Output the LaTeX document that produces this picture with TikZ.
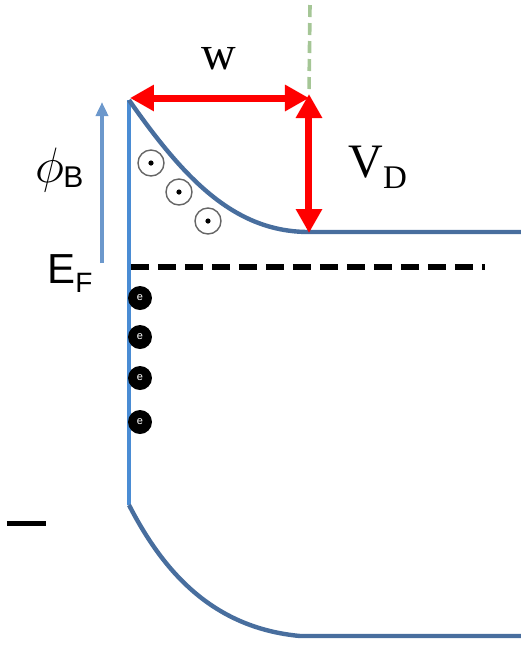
\documentclass[tikz,border=0pt]{standalone}
\usepackage{fontspec}
\setmainfont{Liberation Serif}
\setsansfont{Liberation Sans}
\usepackage{amsmath}
\usetikzlibrary{arrows.meta,positioning,calc}
\definecolor{bandBlue}{RGB}{72,110,158}
\definecolor{wallBlue}{RGB}{74,140,212}
\definecolor{phiBlue}{RGB}{108,152,204}
\definecolor{edgeGreen}{RGB}{165,198,150}

\begin{document}
\begin{tikzpicture}[
  x=0.5pt, y=-0.5pt,
  band/.style={line width=2.2pt, bandBlue},
  dim/.style={{Triangle[length=12pt,width=12.5pt]}-{Triangle[length=12pt,width=12.5pt]},
              line width=3.5pt, red},
  hole/.style={circle, draw=black!60, line width=0.7pt, minimum size=13pt, inner sep=0pt,
               path picture={\fill[black] (path picture bounding box.center) circle (1.3pt);}},
  elec/.style={circle, fill=black, minimum size=12pt, inner sep=0pt, text=white,
               font=\sffamily\fontsize{5.5}{5.5}\selectfont},
  lbl/.style={inner sep=0pt, anchor=base west}
]
  \useasboundingbox (0,0) rectangle (521,645);

  % band edges and interface
  \coordinate (top)  at (130,98);
  \coordinate (edge) at (309,98);
  \coordinate (knee) at (309,94);
  \coordinate (flat) at (309,233);
  \draw[wallBlue, line width=2.2pt] (129,100) -- (129,505);
  \draw[band] (129,100) .. controls (185,180) and (235,232) .. (309,232) -- (521,232);
  \draw[band] (129,505) .. controls (165,575) and (215,628) .. (300,636) -- (521,636);

  % Fermi level and depletion edge
  \draw[black, line width=2.6pt, dash pattern=on 9pt off 4.5pt] (131,267) -- (485,267);
  \draw[edgeGreen, line width=1.8pt, dash pattern=on 6pt off 3pt] (310,5) -- (knee);
  \draw[black, line width=2.5pt] (7,523) -- (46,523);

  % barrier height arrow
  \coordinate (phibot) at (102,263);
  \coordinate (phitop) at (102,102);
  \draw[-{Triangle[length=7pt,width=6pt]}, phiBlue, line width=2pt] (phibot) -- (phitop);

  % W and V_D
  \draw[dim] (top) -- (edge);
  \draw[dim] (knee) -- (flat);
  \node[font=\fontsize{24}{24}\selectfont] (w) at (219,59) {w};
  \node[lbl, font=\fontsize{24}{24}\selectfont] (vd) at (348,177)
       {V\raisebox{-5.5pt}{\fontsize{16.5}{16.5}\selectfont D}};

  % labels on the left
  \node[font=\fontsize{28}{28}\selectfont] (phi) at (50,170) {$\phi$};
  \node[lbl, font=\sffamily\fontsize{15}{15}\selectfont] (phib) at (63,187) {B};
  \node[lbl, font=\sffamily\fontsize{21}{21}\selectfont] (ef) at (47,283)
       {E\raisebox{-4.5pt}{\fontsize{14}{14}\selectfont F}};

  % ionised donors
  \node[hole] (h1) at (151,163) {};
  \node[hole] (h2) at (179,192) {};
  \node[hole] (h3) at (208,221) {};

  % surface electrons
  \foreach \yy/\nm in {298/e1, 337/e2, 378/e3, 422/e4}
    \node[elec] (\nm) at (140,\yy) {e};
\end{tikzpicture}
\end{document}
